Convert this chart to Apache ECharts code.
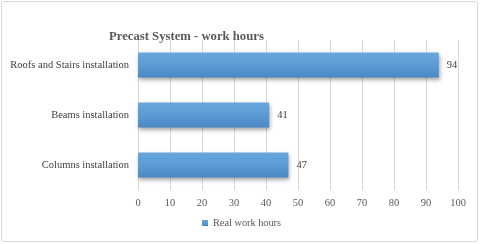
<!DOCTYPE html>
<html><head><meta charset="utf-8">
<script src="https://cdn.jsdelivr.net/npm/echarts@6/dist/echarts.min.js"></script>
<style>html,body{margin:0;padding:0;background:#fff}#c{width:480px;height:244px}</style>
</head><body><div id="c"></div>
<script>
const categories = ["Columns installation", "Beams installation", "Roofs and Stairs installation"];
const values = [47, 41, 94];
const seriesName = "Real work hours";
const titleText = "Precast System - work hours";

const chart = echarts.init(document.getElementById('c'), null, {renderer: 'canvas'});
const serif = '"Liberation Serif", "DejaVu Serif", serif';
chart.setOption({
  animation: false,
  backgroundColor: '#fff',
  graphic: [{type: 'rect', shape: {x: 1.5, y: 1.5, width: 476, height: 240, r: 2}, style: {fill: 'none', stroke: '#d9d9d9', lineWidth: 1}}],
  title: {text: titleText, left: 104, top: 25, textStyle: {fontFamily: serif, fontSize: 12.7, fontWeight: 'bold', color: '#595959'}},
  legend: {bottom: 11, left: 197, itemWidth: 6, itemHeight: 6, itemGap: 3, icon: 'rect',
    textStyle: {fontFamily: serif, fontSize: 10.3, color: '#595959'}},
  grid: {left: 138, right: 22, top: 40, bottom: 54, containLabel: false},
  xAxis: {type: 'value', min: 0, max: 100, interval: 10,
    axisLine: {show: false}, axisTick: {show: false},
    splitLine: {lineStyle: {color: '#d9d9d9', width: 1}},
    axisLabel: {fontFamily: serif, fontSize: 10.5, color: '#595959', margin: 8}},
  yAxis: {type: 'category', data: categories,
    axisLine: {show: true, lineStyle: {color: '#d9d9d9'}}, axisTick: {show: false},
    axisLabel: {fontFamily: serif, fontSize: 10.5, color: '#404040', margin: 9}},
  series: [{name: seriesName, type: 'bar', data: values, barWidth: 25,
    itemStyle: {
      color: new echarts.graphic.LinearGradient(0, 0, 0, 1, [
        {offset: 0, color: '#6aa6de'}, {offset: 0.5, color: '#5b9bd5'}, {offset: 1, color: '#4a88c4'}]),
      shadowColor: 'rgba(0,0,0,0.35)', shadowBlur: 4, shadowOffsetX: 1, shadowOffsetY: 2},
    label: {show: true, position: 'right', distance: 8, fontFamily: serif, fontSize: 10.5, color: '#404040'}}]
});
</script></body></html>
